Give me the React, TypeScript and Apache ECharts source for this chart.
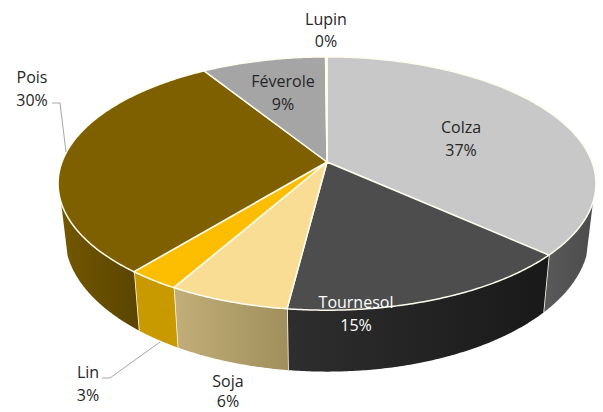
import React, { useEffect, useRef } from "react";
import * as echarts from "echarts";

const categories = ["Colza", "Tournesol", "Soja", "Lin", "Pois", "Féverole", "Lupin"];
const shares = [36.7, 15.3, 6.2, 2.7, 30.2, 8.8, 0.1];
const shareLabels = ["37%", "15%", "6%", "3%", "30%", "9%", "0%"];

const topColors = ["#c8c8c8", "#4d4d4d", "#f9dd95", "#fdbd00", "#7f6000", "#a5a5a5", "#d9d9d9"];
const wallLeftColors = ["#5a5a5a", "#2e2e2e", "#c2ae78", "#c99a00", "#735700", "#a5a5a5", "#d9d9d9"];
const wallRightColors = ["#4c4c4c", "#191919", "#a08f5c", "#c99a00", "#5a4400", "#a5a5a5", "#d9d9d9"];
const labelColors = ["#262626", "#ffffff", "#262626", "#262626", "#262626", "#262626", "#262626"];
const labelCenters = [[461, 138], [356, 313], [228, 391], [88, 383], [32, 88], [283, 92], [326, 30]];
const labelHalfGaps = [11.5, 11.5, 10, 11.5, 11.5, 11.5, 11];
const leaderLines = [
  [[52, 103], [60, 103], [66, 152]],
  [[102, 378], [110, 378], [160, 342]],
];

const CX = 327, CY = 162, RX = 265, RY = 123, P = 0.17, DEPTH = 51, SHRINK = 0.975;
const WALL_FROM = 108, WALL_TO = 252, RIM = "#fffdf0";
const rad = (d: number) => (d * Math.PI) / 180;
const factor = (t: number) => 1 / (1 + P * Math.cos(rad(t)));
const topPt = (t: number) => {
  const f = factor(t);
  return [CX + RX * Math.sin(rad(t)) * f, CY - RY * Math.cos(rad(t)) * f];
};
const botPt = (t: number) => {
  const f = factor(t);
  return [CX + RX * Math.sin(rad(t)) * f * SHRINK, CY - RY * Math.cos(rad(t)) * f + DEPTH * f];
};
const range = (a: number, b: number) => {
  const out: number[] = [];
  const n = Math.max(2, Math.ceil((b - a) / 0.5));
  for (let i = 0; i <= n; i++) out.push(a + ((b - a) * i) / n);
  return out;
};
const total = shares.reduce((s, v) => s + v, 0);
const angles = (idx: number) => {
  let sum = 0;
  for (let i = 0; i < idx; i++) sum += shares[i];
  return [(sum / total) * 360, ((sum + shares[idx]) / total) * 360];
};

const rows = shares.map((v, i) => [i, v]);

export default function App() {
  const ref = useRef<HTMLDivElement>(null);
  useEffect(() => {
    const chart = echarts.init(ref.current!, null, { renderer: "svg" });
    chart.setOption({
      animation: false,
      backgroundColor: "#ffffff",
      series: [
        {
          type: "custom",
          coordinateSystem: "none",
          z: 1,
          silent: true,
          data: rows,
          renderItem: (_p: any, api: any) => {
            const i = api.value(0);
            const [a0, a1] = angles(i);
            const a = Math.max(a0, WALL_FROM), b = Math.min(a1, WALL_TO);
            if (b <= a) return { type: "group", children: [] };
            const ts = range(a, b);
            const points = [...ts.map(topPt), ...ts.slice().reverse().map(botPt)];
            const children: any[] = [
              {
                type: "polygon",
                shape: { points },
                style: {
                  fill: new echarts.graphic.LinearGradient(0, 0, 1, 0, [
                    { offset: 0, color: wallLeftColors[i] },
                    { offset: 1, color: wallRightColors[i] },
                  ]),
                },
              },
            ];
            if (a1 < WALL_TO) {
              const p = topPt(a1), q = botPt(a1);
              children.push({
                type: "line",
                shape: { x1: p[0], y1: p[1], x2: q[0], y2: q[1] },
                style: { stroke: RIM, lineWidth: 1.6 },
              });
            }
            return { type: "group", children };
          },
        },
        {
          type: "custom",
          coordinateSystem: "none",
          z: 2,
          silent: true,
          data: rows,
          renderItem: (_p: any, api: any) => {
            const i = api.value(0);
            const [a0, a1] = angles(i);
            const points = [[CX, CY], ...range(a0, a1).map(topPt)];
            return {
              type: "polygon",
              shape: { points },
              style: { fill: topColors[i], stroke: RIM, lineWidth: 1.5, lineJoin: "round" },
            };
          },
        },
        {
          type: "custom",
          coordinateSystem: "none",
          z: 3,
          silent: true,
          data: leaderLines.map((_, i) => [i]),
          renderItem: (_p: any, api: any) => ({
            type: "polyline",
            shape: { points: leaderLines[api.value(0)] },
            style: { stroke: "#a6a6a6", lineWidth: 1, fill: "none" },
          }),
        },
        {
          type: "custom",
          coordinateSystem: "none",
          z: 4,
          silent: true,
          data: rows,
          renderItem: (_p: any, api: any) => {
            const i = api.value(0);
            const [x, y] = labelCenters[i];
            const gap = labelHalfGaps[i];
            const mk = (text: string, yy: number) => ({
              type: "text",
              x,
              y: yy,
              style: {
                text,
                fill: labelColors[i],
                font: '16px "Open Sans", "Noto Sans", sans-serif',
                align: "center",
                verticalAlign: "middle",
              },
            });
            return {
              type: "group",
              children: [mk(categories[i], y - gap), mk(shareLabels[i], y + gap)],
            };
          },
        },
      ],
    });
    return () => chart.dispose();
  }, []);
  return <div ref={ref} style={{ position: "absolute", left: 0, top: 0, width: 603, height: 412 }} />;
}
